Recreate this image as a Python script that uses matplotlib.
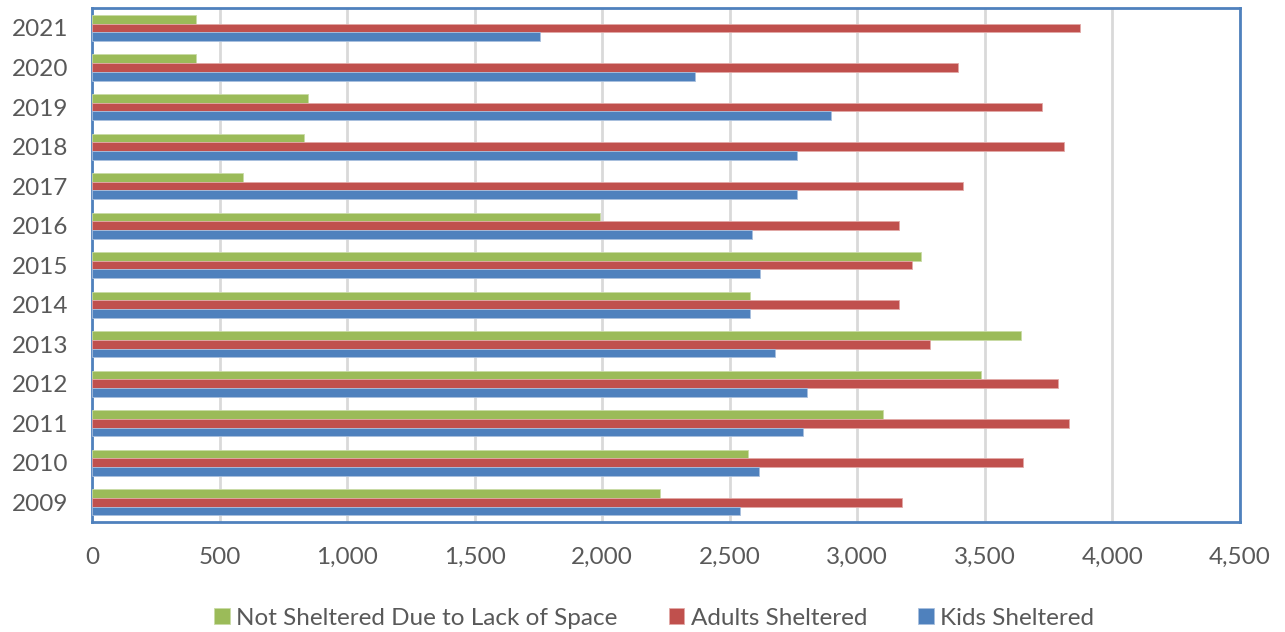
import matplotlib.pyplot as plt
import numpy as np

years = ["2009", "2010", "2011", "2012", "2013", "2014", "2015",
         "2016", "2017", "2018", "2019", "2020", "2021"]
not_sheltered = [2227, 2570, 3101, 3485, 3640, 2581, 3250, 1991, 591, 830, 848, 406, 406]
adults = [3176, 3651, 3829, 3788, 3285, 3165, 3216, 3165, 3416, 3811, 3725, 3393, 3874]
kids = [2541, 2616, 2787, 2804, 2679, 2581, 2620, 2587, 2764, 2764, 2896, 2364, 1757]

plt.rcParams['font.family'] = ['Lato', 'DejaVu Sans']

fig = plt.figure(figsize=(12.85, 6.32), dpi=100)
ax = fig.add_axes([0.0716, 0.174, 0.8934, 0.813])

y = np.arange(len(years))
h = 0.22
ax.barh(y + h, not_sheltered, h, color="#9BBB59", edgecolor="#C9DBA6", linewidth=0.6,
        label="Not Sheltered Due to Lack of Space", zorder=3)
ax.barh(y, adults, h, color="#C0504D", edgecolor="#E2A9A7", linewidth=0.6,
        label="Adults Sheltered", zorder=3)
ax.barh(y - h, kids, h, color="#4F81BD", edgecolor="#A9C0DE", linewidth=0.6,
        label="Kids Sheltered", zorder=3)

ax.set_xlim(0, 4500)
ax.set_ylim(-0.5, len(years) - 0.5)
ax.set_xticks(np.arange(0, 4501, 500))
ax.set_xticklabels([f"{v:,}" for v in range(0, 4501, 500)])
ax.set_yticks(y)
ax.set_yticklabels(years)
ax.tick_params(axis="both", length=0, labelsize=17.5, colors="#595959")
ax.tick_params(axis="x", pad=18)
ax.tick_params(axis="y", pad=17)
ax.xaxis.grid(True, color="#D9D9D9", linewidth=2, zorder=0)
for s in ax.spines.values():
    s.set_color("#4F81BD")
    s.set_linewidth(2)

fig.legend(loc="center", bbox_to_anchor=(0.509, 0.022), ncol=3, frameon=False,
           fontsize=17.5, handlelength=0.65, handleheight=0.65, handletextpad=0.25,
           columnspacing=2.1, labelcolor="#595959")

fig.savefig("out.png", dpi=100)
